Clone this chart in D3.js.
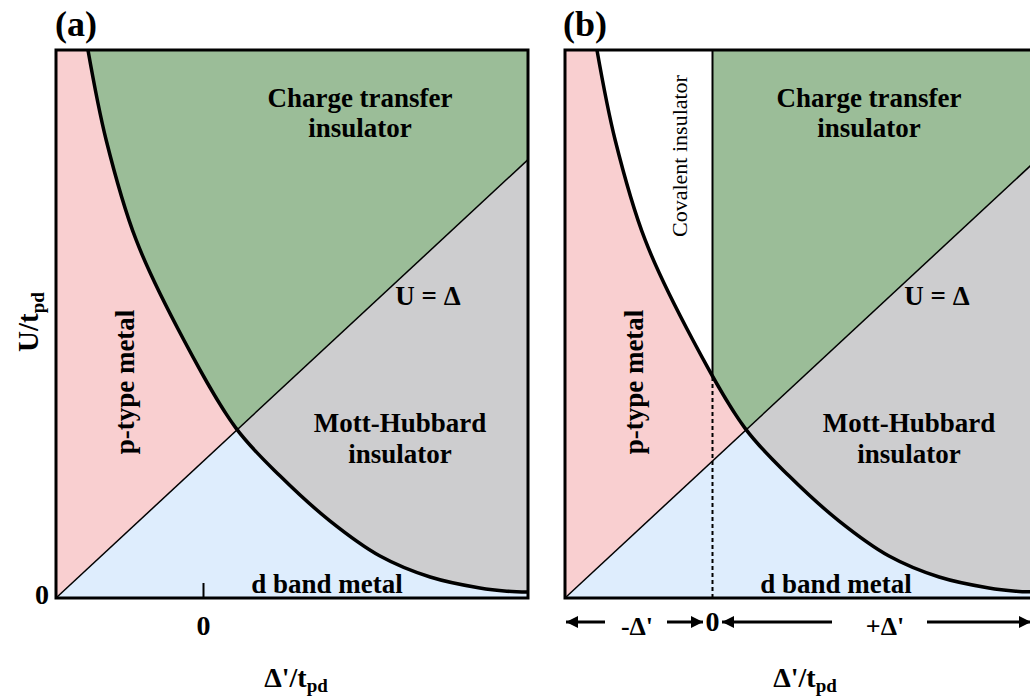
<!DOCTYPE html>
<html><head><meta charset="utf-8">
<script src="https://cdn.jsdelivr.net/npm/d3@7"></script>
<style>
html,body{margin:0;padding:0;background:#fff;}
text{font-family:"Liberation Serif","Times New Roman",serif;}
</style></head>
<body><svg id="chart" width="1030" height="697"></svg>
<script>
// ---- data ----
const xDomain = [-3, 6.6];          // Δ'/t_pd
const uDomain = [0, 12];            // U/t_pd
const boundaryX = [-2.35, -1.98, -1.37, -0.40, 0.66, 1.56, 2.57, 3.59, 4.61, 5.62, 6.17, 6.6];
const boundaryU = [12.0, 10.03, 7.84, 5.65, 3.72, 2.67, 1.69, 0.92, 0.46, 0.22, 0.15, 0.13];
const diagX = [-3, 6.6];
const diagU = [0, 9.6];
const covalentEdgeX = 0;            // Δ' = 0
const panelLabels = ["(a)", "(b)"];
const colors = {pink:"#f9cfd0", green:"#9bbd98", gray:"#cdcdcf", blue:"#deedfd"};

const svg = d3.select("#chart");
const W = 472, H = 548, panelTop = 50;
const x = d3.scaleLinear().domain(xDomain).range([0, W]);
const y = d3.scaleLinear().domain(uDomain).range([H, 0]);
const curvePts = boundaryX.map((v,i)=>[v, boundaryU[i]]);
const diagPts = diagX.map((v,i)=>[v, diagU[i]]);

const curveType = d3.curveCatmullRom.alpha(0.5);
const lineGen = d3.line().x(d=>x(d[0])).y(d=>y(d[1])).curve(curveType);
const aboveCurve = d3.area().x(d=>x(d[0])).y0(y(uDomain[1])).y1(d=>y(d[1])).curve(curveType);
const aboveDiag = [[diagX[0], diagU[0]], [diagX[1], diagU[1]], [xDomain[1], uDomain[1]], [xDomain[0], uDomain[1]]];
const poly = pts => "M" + pts.map(p=>x(p[0])+","+y(p[1])).join("L") + "Z";

// find pixel y of the drawn boundary curve at a given pixel x
function curveYAt(px){
  const tmp = svg.append("path").attr("d", lineGen(curvePts)).attr("fill","none");
  const node = tmp.node(), L = node.getTotalLength();
  let lo=0, hi=L;
  for(let k=0;k<40;k++){ const m=(lo+hi)/2; if(node.getPointAtLength(m).x < px) lo=m; else hi=m; }
  const py = node.getPointAtLength((lo+hi)/2).y;
  tmp.remove();
  return py;
}

function panel(idx, left){
  const g = svg.append("g").attr("transform", `translate(${left},${panelTop})`);
  const cid = "clipCurve"+idx;
  g.append("clipPath").attr("id", cid).append("path").attr("d", aboveCurve(curvePts));
  g.append("rect").attr("x",0).attr("y",0).attr("width",W).attr("height",H).attr("fill",colors.blue);
  g.append("path").attr("d", poly(aboveDiag)).attr("fill", colors.pink);
  g.append("path").attr("d", aboveCurve(curvePts)).attr("fill", colors.gray);
  g.append("path").attr("d", poly(aboveDiag)).attr("fill", colors.green).attr("clip-path", `url(#${cid})`);
  if(idx===1){
    g.append("rect").attr("x", x(xDomain[0])).attr("y", 0)
      .attr("width", x(covalentEdgeX)-x(xDomain[0])).attr("height", H)
      .attr("fill", "#ffffff").attr("clip-path", `url(#${cid})`);
  }
  // diagonal U = Δ
  g.append("path").attr("d", d3.line().x(d=>x(d[0])).y(d=>y(d[1]))(diagPts))
    .attr("stroke","#000").attr("stroke-width",1.5).attr("fill","none");
  if(idx===1){
    const yc = curveYAt(x(covalentEdgeX));
    g.append("line").attr("x1",x(0)).attr("x2",x(0)).attr("y1",yc).attr("y2",y(uDomain[1]))
      .attr("stroke","#000").attr("stroke-width",2);
    g.append("line").attr("x1",x(0)).attr("x2",x(0)).attr("y1",y(0)).attr("y2",yc)
      .attr("stroke","#000").attr("stroke-width",2).attr("stroke-dasharray","4,3");
  }
  // boundary curve
  g.append("path").attr("d", lineGen(curvePts)).attr("stroke","#000").attr("stroke-width",3.5).attr("fill","none");
  // frame
  g.append("rect").attr("x",0).attr("y",0).attr("width",W).attr("height",H)
    .attr("fill","none").attr("stroke","#000").attr("stroke-width",3);

  const T = (tx,ty,s,size,opt={}) => g.append("text").attr("x",tx).attr("y",ty).text(s)
    .attr("font-size",size).attr("font-weight",opt.w||"bold").attr("text-anchor",opt.a||"middle")
    .attr("transform", opt.r ? `rotate(-90,${tx},${ty})` : null);
  T(304, 57, "Charge transfer", 27);
  T(304, 87, "insulator", 27);
  T(372, 255, "U = \u0394", 27);
  T(344, 382, "Mott-Hubbard", 27);
  T(344, 413, "insulator", 27);
  T(271, 543, "d band metal", 27);
  T(78, 332, "p-type metal", 27, {r:true});
  if(idx===1) T(122, 106, "Covalent insulator", 22, {r:true, w:"normal"});
  g.append("text").attr("x", 20).attr("y", -14).text(panelLabels[idx])
    .attr("font-size", 36).attr("font-weight","bold").attr("text-anchor","middle");
  // x axis title
  const xt = g.append("text").attr("x", 240).attr("y", 637).attr("font-size", 28).attr("font-weight","bold").attr("text-anchor","middle");
  xt.append("tspan").text("\u0394'/t");
  xt.append("tspan").text("pd").attr("font-size", 19).attr("dy", 5);
  return g;
}

const ga = panel(0, 56);
const gb = panel(1, 565);

// panel a axis: tick at 0, zero labels, y title
ga.append("line").attr("x1",x(0)).attr("x2",x(0)).attr("y1",H-15).attr("y2",H).attr("stroke","#000").attr("stroke-width",2);
ga.append("text").attr("x",x(0)).attr("y",H+37).text("0").attr("font-size",28).attr("font-weight","bold").attr("text-anchor","middle");
ga.append("text").attr("x",-14).attr("y",H+6).text("0").attr("font-size",28).attr("font-weight","bold").attr("text-anchor","middle");
const yt = svg.append("text").attr("transform","translate(38,322) rotate(-90)").attr("font-size",29).attr("font-weight","bold").attr("text-anchor","middle");
yt.append("tspan").text("U/t");
yt.append("tspan").text("pd").attr("font-size",19).attr("dy",6);

// panel b arrows
const defs = svg.append("defs");
defs.append("marker").attr("id","ah").attr("viewBox","0 0 10 10").attr("refX",10).attr("refY",5)
  .attr("markerWidth",5).attr("markerHeight",4).attr("markerUnits","strokeWidth").attr("orient","auto")
  .append("path").attr("d","M0,0L10,5L0,10Z").attr("fill","#000");
const ay = H + 24;
const arrow = (x1,x2) => gb.append("line").attr("x1",x1).attr("x2",x2).attr("y1",ay).attr("y2",ay)
  .attr("stroke","#000").attr("stroke-width",3).attr("marker-end","url(#ah)");
arrow(40, 1);
arrow(102, 138);
arrow(267, 157);
arrow(362, 466);
gb.append("text").attr("x",72).attr("y",ay+13).text("-\u0394'").attr("font-size",26).attr("font-weight","bold").attr("text-anchor","middle");
gb.append("text").attr("x",x(0)).attr("y",ay+9).text("0").attr("font-size",28).attr("font-weight","bold").attr("text-anchor","middle");
gb.append("text").attr("x",320).attr("y",ay+13).text("+\u0394'").attr("font-size",26).attr("font-weight","bold").attr("text-anchor","middle");
</script></body></html>
